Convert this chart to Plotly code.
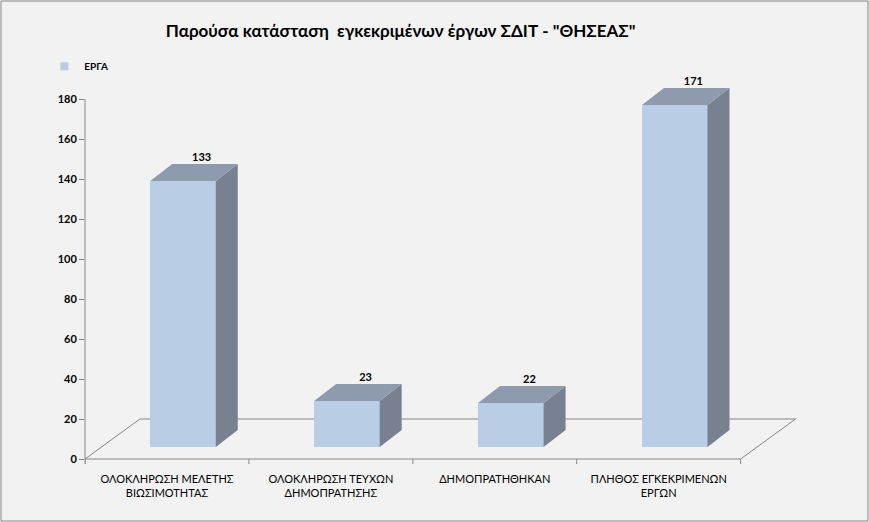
import numpy as np
import plotly.graph_objects as go

# ---- data ----
categories = ["ΟΛΟΚΛΗΡΩΣΗ ΜΕΛΕΤΗΣ<br>ΒΙΩΣΙΜΟΤΗΤΑΣ",
              "ΟΛΟΚΛΗΡΩΣΗ ΤΕΥΧΩΝ<br>ΔΗΜΟΠΡΑΤΗΣΗΣ",
              "ΔΗΜΟΠΡΑΤΗΘΗΚΑΝ",
              "ΠΛΗΘΟΣ ΕΓΚΕΚΡΙΜΕΝΩΝ<br>ΕΡΓΩΝ"]
values = [133, 23, 22, 171]
series_name = "ΕΡΓΑ"
y_ticks = [0, 20, 40, 60, 80, 100, 120, 140, 160, 180]

# ---- 3d look settings ----
FRONT = "#B9CDE5"
TOP = "#8E9BAE"
SIDE = "#77818F"
GRID = "#868686"
BG = "#F2F2F2"

bar_w = 0.40      # front face width (category units)
shift = 0.098     # bars sit a bit back inside the floor
base = 6          # front face bottom (value units)
ddx = 0.134       # bar depth, x
ddy = 8.5         # bar depth, y
fdx = 0.335       # floor depth, x
fdy = 20          # floor depth, y

pos = np.arange(len(values))
xc = pos + shift

fig = go.Figure()

fig.add_trace(go.Bar(
    x=xc, y=values, base=base, width=bar_w, name=series_name,
    marker=dict(color=FRONT, line=dict(width=0)),
    showlegend=False, hoverinfo="skip",
))

for x, v in zip(xc, values):
    xl, xr = x - bar_w / 2, x + bar_w / 2
    top = base + v
    # side face
    fig.add_trace(go.Scatter(
        x=[xr, xr + ddx, xr + ddx, xr, xr],
        y=[base, base + ddy, top + ddy, top, base],
        fill="toself", fillcolor=SIDE, mode="lines", line=dict(width=0),
        showlegend=False, hoverinfo="skip"))
    # top face
    fig.add_trace(go.Scatter(
        x=[xl, xl + ddx, xr + ddx, xr, xl],
        y=[top, top + ddy, top + ddy, top, top],
        fill="toself", fillcolor=TOP, mode="lines", line=dict(width=0),
        showlegend=False, hoverinfo="skip"))

# value labels
fig.add_trace(go.Scatter(
    x=xc + ddx * 0.85, y=[base + v + ddy for v in values],
    text=[str(v) for v in values], mode="text", textposition="top center",
    textfont=dict(family="Lato, sans-serif", size=11, color="black",
                  weight="bold"),
    cliponaxis=False, showlegend=False, hoverinfo="skip"))

# legend entry (small square like the original)
fig.add_trace(go.Scatter(
    x=[None], y=[None], mode="markers", name=series_name,
    marker=dict(symbol="square", size=8, color=FRONT)))

# floor + category ticks
x0, x1 = -0.5, len(values) - 0.5
path = f"M{x0},0 L{x1},0 L{x1 + fdx},{fdy} L{x0 + fdx},{fdy} Z"
for b in np.arange(x0, x1 + 0.01, 1.0):
    path += f" M{b},0 L{b},-2.5"

Y0, Y1 = -3, 188
X0, X1 = -0.5, 3.85
ML, MR, MT, MB = 85, 71, 83, 57
pw = 869 - ML - MR
ph = 522 - MT - MB

shapes = [
    dict(type="path", path=path, xref="x", yref="y", layer="below",
         line=dict(color=GRID, width=1)),
    dict(type="line", xref="paper", yref="y", x0=0, x1=0, y0=-2.5, y1=180,
         line=dict(color=GRID, width=1)),
    dict(type="rect", xref="paper", yref="paper",
         x0=(1 - ML) / pw, x1=(868 - ML) / pw,
         y0=-(MB - 1) / ph, y1=1 + (MT - 1) / ph,
         line=dict(color=GRID, width=1), layer="below"),
]

fig.update_layout(
    width=869, height=522,
    margin=dict(l=ML, r=MR, t=MT, b=MB),
    paper_bgcolor=BG, plot_bgcolor=BG,
    font=dict(family="Lato, sans-serif", color="black"),
    title=dict(text='Παρούσα κατάσταση  εγκεκριμένων έργων ΣΔΙΤ - "ΘΗΣΕΑΣ"',
               x=0.461, xanchor="center", y=0.94, yanchor="middle",
               font=dict(family="Lato, sans-serif", size=17, color="black",
                         weight="bold")),
    showlegend=True,
    legend=dict(x=-0.057, y=1.082, xanchor="left", yanchor="top",
                bgcolor="rgba(0,0,0,0)", itemwidth=30,
                font=dict(size=10, weight="bold")),
    xaxis=dict(range=[X0, X1], tickvals=pos, ticktext=categories,
               ticks="", showline=False, showgrid=False, zeroline=False,
               ticklabelstandoff=6, tickfont=dict(size=11)),
    yaxis=dict(range=[Y0, Y1], tickvals=y_ticks, ticks="outside",
               ticklen=5, tickcolor=GRID, showline=False, showgrid=False,
               zeroline=False, tickfont=dict(size=11, weight="bold")),
    shapes=shapes,
    bargap=0,
)

fig.write_html("out.html", config={"displayModeBar": False},
               post_script="document.body.style.margin='0';")
